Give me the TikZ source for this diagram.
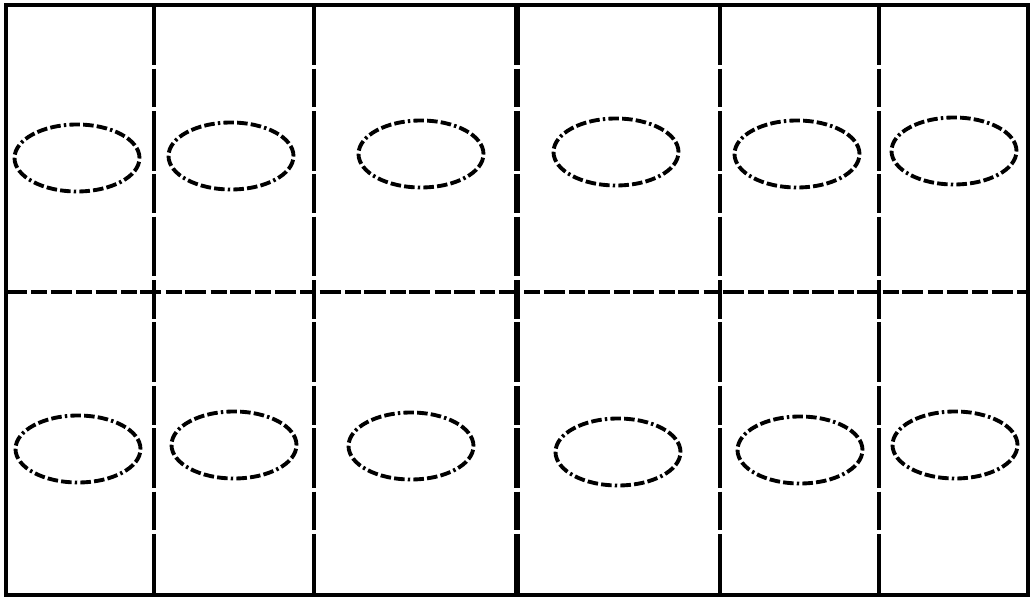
\documentclass[tikz,border=0pt]{standalone}
\usetikzlibrary{shapes.geometric}
\begin{document}
\begin{tikzpicture}[x=0.02cm, y=-0.02cm,
    frame/.style={line width=2.3pt},
    divider/.style={line width=2.2pt, dash pattern=on 34pt off 2.2pt on 22pt off 2pt},
    divrow/.style={line width=2.2pt, dash pattern=on 12pt off 2.5pt on 9pt off 2pt},
    cell/.style={ellipse, draw, line width=2.2pt, minimum width=2.5cm, minimum height=1.34cm,
        dash pattern=on 6pt off 1.8pt on 6pt off 1.8pt on 6pt off 1.8pt on 1.4pt off 1.8pt}]
    \useasboundingbox (0,0) rectangle (1034,601);

    % Grid corners
    \coordinate (tl) at (6,5);
    \coordinate (br) at (1028,595);

    % Dividers
    \draw[divrow] (6,292) -- (1028,292);
    \foreach \x in {154,314,720,879}
        \draw[divider] (\x,5) -- (\x,595);
    \draw[divider, line width=3pt] (517,5) -- (517,595);

    % Outer frame
    \draw[frame] (tl) rectangle (br);

    % Ellipses, upper row
    \foreach \i/\x/\y in {1/77/158, 2/231/156, 3/421/154, 4/616/152, 5/797/154, 6/954/151}
        \node[cell] (u\i) at (\x,\y) {};

    % Ellipses, lower row
    \foreach \i/\x/\y in {1/78/449, 2/234/445, 3/411/446, 4/618/452, 5/800/450, 6/955/445}
        \node[cell] (l\i) at (\x,\y) {};
\end{tikzpicture}
\end{document}
